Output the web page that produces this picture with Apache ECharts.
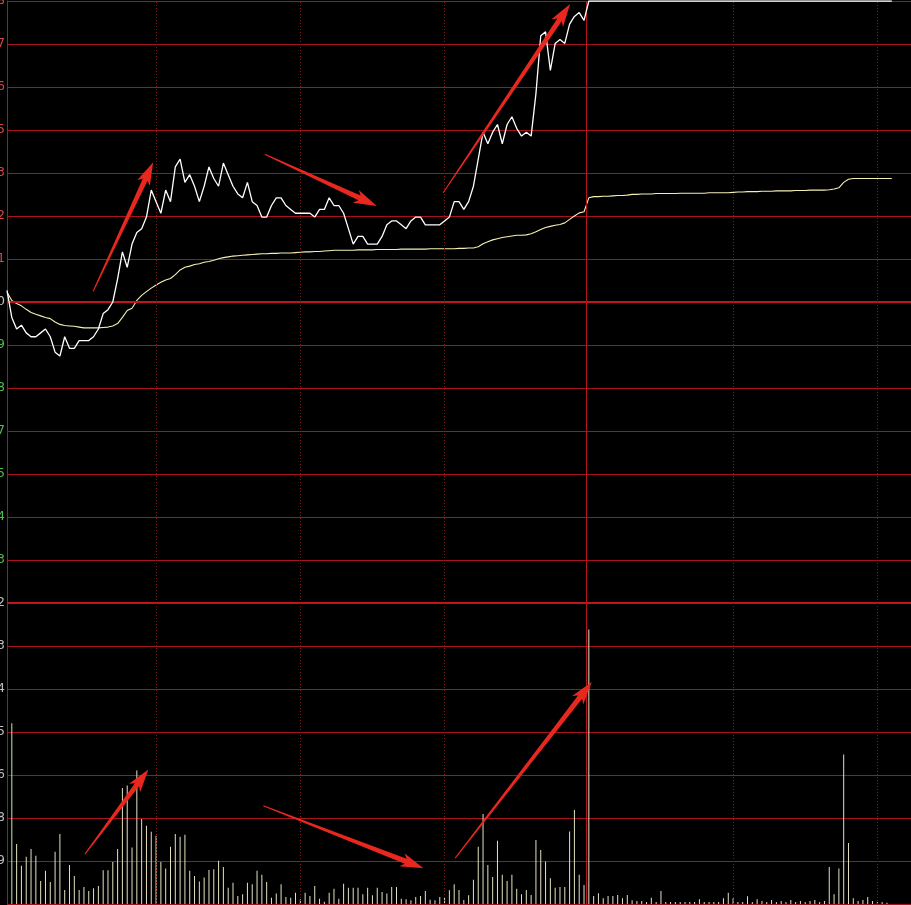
<!DOCTYPE html>
<html><head><meta charset="utf-8">
<script src="https://cdn.jsdelivr.net/npm/echarts@6/dist/echarts.min.js"></script>
<style>html,body{margin:0;padding:0;background:#000;overflow:hidden}#c{width:911px;height:905px}</style>
</head><body><div id="c"></div>
<script>
// ---- data (minute index 0 = 9:30) ----
const prevClose = 7.80;
const priceMin = 7.02;
const priceMax = 8.58;
const volMax = 2232;
const priceTickLabels = ['7.02','7.13','7.24','7.35','7.47','7.58','7.69','7.80','7.91','8.02','8.13','8.25','8.36','8.47','8.58'];
const volumeTickLabels = ['0','319','638','956','1275','1594','1913','2232'];
const halfHourMarks = [31, 61, 91, 151, 181];
const middayBreak = [120.4];

const price = [
 7.83,7.76,7.73,7.74,7.72,7.71,7.71,7.72,7.73,7.71,
 7.67,7.66,7.71,7.68,7.68,7.70,7.70,7.70,7.71,7.73,
 7.77,7.78,7.80,7.86,7.93,7.89,7.95,7.98,7.99,8.02,
 8.09,8.06,8.03,8.09,8.06,8.15,8.17,8.11,8.13,8.10,
 8.06,8.10,8.15,8.12,8.10,8.16,8.13,8.10,8.08,8.07,
 8.11,8.06,8.05,8.02,8.02,8.05,8.07,8.07,8.05,8.04,
 8.03,8.03,8.03,8.03,8.02,8.04,8.04,8.07,8.05,8.05,
 8.03,7.99,7.95,7.97,7.97,7.95,7.95,7.95,7.97,8.00,
 8.01,8.01,8.00,7.99,8.01,8.02,8.02,8.00,8.00,8.00,
 8.00,8.01,8.02,8.06,8.06,8.04,8.06,8.10,8.17,8.24,
 8.21,8.24,8.26,8.21,8.26,8.28,8.25,8.23,8.24,8.23,
 8.34,8.49,8.50,8.40,8.47,8.48,8.47,8.52,8.54,8.55,
 8.53,8.58,8.58,8.58,8.58,8.58,8.58,8.58,8.58,8.58,
 8.58,8.58,8.58,8.58,8.58,8.58,8.58,8.58,8.58,8.58,
 8.58,8.58,8.58,8.58,8.58,8.58,8.58,8.58,8.58,8.58,
 8.58,8.58,8.58,8.58,8.58,8.58,8.58,8.58,8.58,8.58,
 8.58,8.58,8.58,8.58,8.58,8.58,8.58,8.58,8.58,8.58,
 8.58,8.58,8.58,8.58,8.58,8.58,8.58,8.58,8.58,8.58,
 8.58,8.58,8.58,8.58,8.58
];
const avgPrice = [
 7.825,7.804,7.796,7.790,7.781,7.773,7.768,7.764,7.760,7.757,
 7.748,7.742,7.739,7.738,7.737,7.735,7.733,7.733,7.733,7.733,
 7.734,7.735,7.738,7.744,7.760,7.778,7.784,7.804,7.817,7.827,
 7.836,7.844,7.851,7.857,7.861,7.871,7.883,7.890,7.893,7.897,
 7.899,7.903,7.905,7.908,7.912,7.915,7.917,7.919,7.920,7.921,
 7.922,7.923,7.924,7.925,7.925,7.926,7.926,7.927,7.927,7.927,
 7.928,7.929,7.930,7.930,7.931,7.931,7.932,7.933,7.934,7.934,
 7.934,7.934,7.934,7.935,7.935,7.935,7.935,7.936,7.936,7.936,
 7.936,7.936,7.937,7.937,7.937,7.937,7.937,7.937,7.938,7.938,
 7.938,7.938,7.938,7.938,7.939,7.939,7.940,7.940,7.943,7.951,
 7.956,7.961,7.964,7.967,7.969,7.971,7.973,7.973,7.974,7.977,
 7.982,7.988,7.993,7.996,7.999,8.001,8.005,8.014,8.023,8.031,
 8.034,8.070,8.073,8.073,8.074,8.074,8.075,8.076,8.076,8.077,
 8.079,8.079,8.080,8.080,8.080,8.081,8.081,8.081,8.081,8.081,
 8.082,8.082,8.082,8.082,8.082,8.082,8.083,8.083,8.083,8.083,
 8.083,8.084,8.085,8.085,8.086,8.086,8.086,8.087,8.087,8.087,
 8.088,8.088,8.088,8.088,8.089,8.089,8.089,8.090,8.090,8.090,
 8.090,8.091,8.093,8.096,8.110,8.118,8.120,8.120,8.120,8.120,
 8.120,8.120,8.120,8.120,8.120
];
const volume = [
 0,1341,444,283,350,407,357,171,246,164,
 387,519,104,290,208,104,126,97,117,134,
 251,251,312,407,861,878,419,990,630,580,
 536,506,312,263,424,519,498,513,246,208,
 166,196,253,258,320,275,121,158,60,72,
 158,147,246,216,164,47,77,147,52,47,
 84,35,84,60,134,39,17,84,114,39,
 151,121,121,121,72,121,65,121,89,77,
 126,126,39,35,28,52,60,97,32,28,
 52,47,102,147,104,30,65,179,424,667,
 290,201,469,216,171,216,114,72,104,67,
 474,400,315,191,121,126,126,538,697,216,
 141,2036,60,80,42,60,60,67,42,67,
 28,22,22,15,47,15,97,15,15,15,
 15,15,15,15,35,15,15,15,15,42,
 84,42,15,15,57,15,35,22,15,30,
 15,22,15,30,15,22,15,22,30,15,
 22,275,72,263,1109,452,42,22,30,52,
 22,15,15,10,0
];
// annotation arrows (red), endpoints in data units: [tailMinute, tailValue, tipMinute, tipValue]
const priceArrows = [
 [17.9, 7.827, 30.4, 8.162],
 [53.6, 8.183, 76.9, 8.049],
 [90.7, 8.083, 117.1, 8.572]
];
const volumeArrows = [
 [16.2, 370, 29.4, 997],
 [53.3, 729, 86.6, 266],
 [93.2, 340, 121.6, 1646]
];

// ---- chart ----
const gridRed = '#a8121e';
const thickRed = '#c0141e';
const dotRed = '#801818';
const arrowRed = '#e8281e';
const priceStep = (priceMax - priceMin) / 14;
const volStep = volMax / 7;

function verticalMarks() {
  const out = halfHourMarks.map(m => ({xAxis: m, lineStyle: {type: [1, 2], color: dotRed, width: 1}}));
  middayBreak.forEach(m => out.push({xAxis: m, lineStyle: {type: 'solid', color: '#b8141e', width: 1}}));
  return out;
}
function arrowRender(params, api) {
  const p0 = api.coord([api.value(0), api.value(1)]);
  const p1 = api.coord([api.value(2), api.value(3)]);
  const dx = p1[0] - p0[0], dy = p1[1] - p0[1];
  const L = Math.hypot(dx, dy), ux = dx / L, uy = dy / L, nx = -uy, ny = ux;
  const headLen = 19, headW = 7, shaftW = 2.6, tailW = 0.5, notch = 4;
  const bx = p1[0] - ux * headLen, by = p1[1] - uy * headLen;
  const pts = [
    [p0[0] + nx * tailW, p0[1] + ny * tailW],
    [bx + nx * shaftW, by + ny * shaftW],
    [bx - ux * notch + nx * headW, by - uy * notch + ny * headW],
    [p1[0], p1[1]],
    [bx - ux * notch - nx * headW, by - uy * notch - ny * headW],
    [bx - nx * shaftW, by - ny * shaftW],
    [p0[0] - nx * tailW, p0[1] - ny * tailW]
  ];
  return {type: 'polygon', shape: {points: pts}, style: {fill: arrowRed}};
}

const chart = echarts.init(document.getElementById('c'), null, {renderer: 'canvas'});
const xCommon = {type: 'value', min: 0, max: 188, show: true,
  axisLine: {show: false}, axisTick: {show: false}, axisLabel: {show: false}, splitLine: {show: false}};

chart.setOption({
  animation: false,
  backgroundColor: '#000000',
  grid: [
    {left: 7, right: 0, top: 1, height: 602, containLabel: false, outerBoundsMode: 'none'},
    {left: 7, right: 0, top: 603, height: 301, containLabel: false, outerBoundsMode: 'none'}
  ],
  xAxis: [
    Object.assign({gridIndex: 0}, xCommon),
    Object.assign({gridIndex: 1}, xCommon)
  ],
  yAxis: [
    {gridIndex: 0, type: 'value', min: priceMin, max: priceMax, interval: priceStep,
     axisLine: {show: true, lineStyle: {color: '#b0141e', width: 1}},
     axisTick: {show: false},
     splitLine: {show: true, lineStyle: {color: gridRed, width: 1}},
     axisLabel: {show: true, showMinLabel: false, margin: 2, fontSize: 12, fontFamily: 'DejaVu Sans',
       formatter: v => priceTickLabels[Math.round((v - priceMin) / priceStep)],
       color: v => { const n = Number(v); return n > prevClose + 1e-6 ? '#d84a4a' : (n < prevClose - 1e-6 ? '#4ec04e' : '#c8c8c8'); }
     }},
    {gridIndex: 1, type: 'value', min: 0, max: volMax, interval: volStep,
     axisLine: {show: true, lineStyle: {color: '#b0141e', width: 1}},
     axisTick: {show: false},
     splitLine: {show: true, lineStyle: {color: gridRed, width: 1}},
     axisLabel: {show: true, showMinLabel: false, margin: 2, fontSize: 12, fontFamily: 'DejaVu Sans', color: '#c0c0c0',
       formatter: v => volumeTickLabels[Math.round(v / volStep)]
     }}
  ],
  series: [
    {name: 'avg', type: 'line', xAxisIndex: 0, yAxisIndex: 0, symbol: 'none', z: 4,
     data: avgPrice.map((v, i) => [i, v]),
     lineStyle: {color: '#f4f0b4', width: 1.1},
     markLine: {silent: true, symbol: 'none', label: {show: false}, animation: false,
       data: [{yAxis: prevClose, lineStyle: {color: thickRed, width: 2, type: 'solid'}}].concat(verticalMarks())}},
    {name: 'price', type: 'line', xAxisIndex: 0, yAxisIndex: 0, symbol: 'none', z: 5,
     data: price.map((v, i) => [i, v]),
     lineStyle: {color: '#ffffff', width: 1.3}},
    {name: 'volume', type: 'bar', xAxisIndex: 1, yAxisIndex: 1, barWidth: 1, z: 4,
     data: volume.map((v, i) => [i, v]),
     itemStyle: {color: p => p.dataIndex === 1 ? '#b6f0b0' : '#e4e2c0'},
     markLine: {silent: true, symbol: 'none', label: {show: false}, animation: false,
       data: [{yAxis: volMax, lineStyle: {color: thickRed, width: 2, type: 'solid'}}].concat(verticalMarks())}},
    {name: 'priceArrows', type: 'custom', xAxisIndex: 0, yAxisIndex: 0, z: 10, clip: false, silent: true,
     renderItem: arrowRender, encode: {x: [0, 2], y: [1, 3]}, data: priceArrows},
    {name: 'volumeArrows', type: 'custom', xAxisIndex: 1, yAxisIndex: 1, z: 10, clip: false, silent: true,
     renderItem: arrowRender, encode: {x: [0, 2], y: [1, 3]}, data: volumeArrows}
  ]
});
</script>
</body></html>
